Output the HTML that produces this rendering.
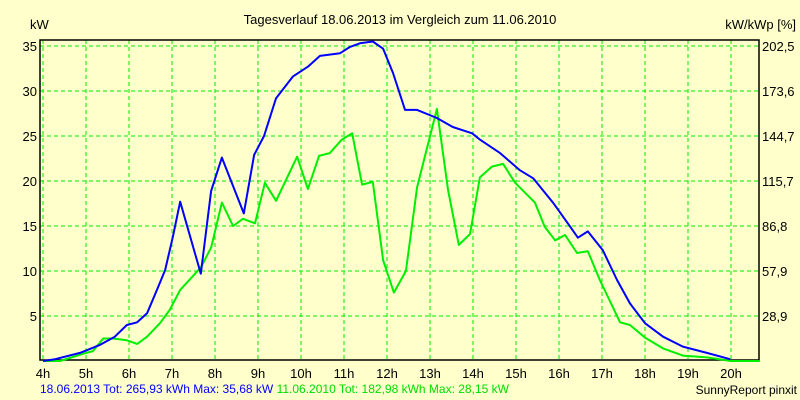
<!DOCTYPE html>
<html><head><meta charset="utf-8"><style>
body{margin:0;background:#ffffcc;}
svg{display:block;font-family:"Liberation Sans",sans-serif;}
</style></head><body>
<svg id="chart" width="800" height="400" viewBox="0 0 800 400">
<rect x="0" y="0" width="800" height="400" fill="#ffffcc"/>
<text x="400" y="24" text-anchor="middle" font-size="13" fill="#000">Tagesverlauf 18.06.2013 im Vergleich zum 11.06.2010</text>
<text x="30" y="29" font-size="13" fill="#000">kW</text>
<text x="796" y="29" text-anchor="end" font-size="13" fill="#000">kW/kWp [%]</text>
<g id="grid"></g>
<g id="axes"></g>
<g id="series"></g>
<text x="40" y="393" font-size="12" fill="#0000ff">18.06.2013 Tot: 265,93 kWh Max: 35,68 kW<tspan fill="#00dd00"> 11.06.2010 Tot: 182,98 kWh Max: 28,15 kW</tspan></text>
<text x="797" y="394" text-anchor="end" font-size="12" fill="#000">SunnyReport pinxit</text>
</svg>
<script>
const hourTicks=[4,5,6,7,8,9,10,11,12,13,14,15,16,17,18,19,20];
const kwTicks=[5,10,15,20,25,30,35];
const pctLabels=["28,9","57,9","86,8","115,7","144,7","173,6","202,5"];
const hours2013=[4.00,4.28,4.86,5.33,5.67,5.95,6.19,6.42,6.65,6.84,7.02,7.19,7.67,7.91,8.16,8.67,8.91,9.14,9.42,9.81,10.16,10.44,10.91,11.14,11.37,11.67,11.91,12.14,12.42,12.70,13.16,13.53,13.98,14.16,14.63,15.09,15.40,15.86,16.19,16.44,16.67,17.02,17.35,17.65,18.00,18.42,18.88,19.44,19.98];
const kw2013=[0,0.2,0.9,1.8,2.7,4.0,4.3,5.3,7.9,10.1,13.8,17.7,9.7,18.9,22.6,16.4,22.9,25.0,29.2,31.6,32.7,33.9,34.2,34.9,35.3,35.5,34.7,32.0,27.9,27.9,27.0,26.0,25.3,24.6,23.1,21.2,20.3,17.6,15.4,13.7,14.4,12.3,9.0,6.4,4.2,2.7,1.6,0.9,0.2];
const hours2010=[4.00,4.40,4.93,5.16,5.40,5.63,5.95,6.19,6.42,6.72,6.95,7.19,7.67,7.91,8.16,8.42,8.65,8.93,9.16,9.42,9.91,10.16,10.42,10.67,10.95,11.19,11.42,11.67,11.91,12.16,12.44,12.70,13.16,13.42,13.67,13.93,14.16,14.44,14.70,14.98,15.44,15.67,15.91,16.14,16.42,16.67,16.95,17.42,17.65,18.00,18.42,18.88,19.44,20.0,20.67];
const kw2010=[0,0,0.8,1.1,2.5,2.5,2.3,1.9,2.7,4.2,5.7,7.9,10.4,12.6,17.6,15.0,15.8,15.3,19.8,17.8,22.7,19.1,22.8,23.1,24.6,25.3,19.6,19.9,11.2,7.6,10.0,19.3,28.0,19.0,12.9,14.1,20.4,21.6,21.9,19.8,17.6,14.9,13.4,14.0,12.0,12.2,9.0,4.3,4.0,2.6,1.4,0.6,0.4,0,0];
const NS="http://www.w3.org/2000/svg";
const X=h=>43+(h-4)*43;
const Y=v=>361-v*9;
function mk(tag,attrs,parent){const e=document.createElementNS(NS,tag);for(const k in attrs)e.setAttribute(k,attrs[k]);parent.appendChild(e);return e;}
const grid=document.getElementById('grid'),axes=document.getElementById('axes'),series=document.getElementById('series');
hourTicks.forEach(h=>{
  const l=mk('line',{x1:X(h),x2:X(h),y1:40,y2:360,stroke:'#00ee00','stroke-width':1,'stroke-dasharray':'4,3'},grid);
  
  
  const t=mk('text',{x:X(h),y:378,'text-anchor':'middle','font-size':13,fill:'#000'},axes);
  t.textContent=h+'h';
  
  
});
kwTicks.forEach((v,i)=>{
  const l=mk('line',{x1:40,x2:759,y1:Y(v),y2:Y(v),stroke:'#00ee00','stroke-width':1,'stroke-dasharray':'4,3'},grid);
  
  
  const t=mk('text',{x:37,y:Y(v)+5,'text-anchor':'end','font-size':13,fill:'#000'},axes);
  t.textContent=v;
  
  
  const r=mk('text',{x:762,y:Y(v)+5,'font-size':13,fill:'#000'},axes);
  r.textContent=pctLabels[i];
  
  
});
const frame=mk('path',{d:'M40,40 H759 V360 H40 Z',fill:'none',stroke:'#000','stroke-width':1.5},axes);


function line(hs,vs,color,name){
  const p=mk('polyline',{points:hs.map((h,i)=>X(h)+','+Y(vs[i])).join(' '),fill:'none',stroke:color,'stroke-width':2,'stroke-linejoin':'round'},series);
  
  
}
line(hours2010,kw2010,'#00ee00','line-2010');
line(hours2013,kw2013,'#0000ff','line-2013');
</script>
</body></html>
